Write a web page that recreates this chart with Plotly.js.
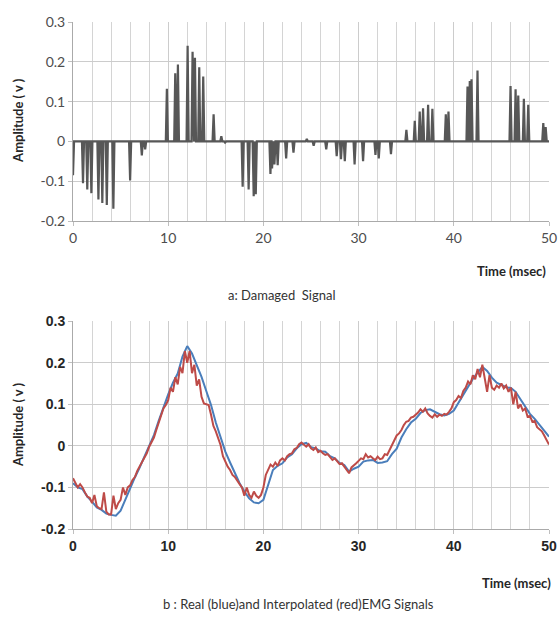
<!DOCTYPE html>
<html>
<head>
<meta charset="utf-8">
<script src="https://cdn.plot.ly/plotly-3.0.1.min.js"></script>
<style>
html,body{margin:0;padding:0;background:#fff;}
#chart{width:558px;height:619px;}
</style>
</head>
<body>
<div id="chart"></div>
<script>
// ---- Panel a: damaged signal (spike times in msec and amplitudes in v) ----
const damagedSpikeTimes = [0.0, 1.05, 1.5, 1.93, 2.67, 3.08, 3.55, 4.24, 6.0, 7.23, 7.58,
  9.86, 10.74, 11.02, 12.04, 12.56, 12.81, 13.26, 13.68, 14.77, 15.58, 15.97,
  17.82, 18.45, 18.98, 19.2, 20.74, 20.91, 21.16, 21.5, 22.39, 23.16, 24.56, 25.28,
  26.6, 27.7, 28.15, 28.55, 29.58, 30.47, 31.77, 32.12, 33.4,
  35.02, 35.9, 36.42, 36.77, 37.3, 37.75, 39.16, 39.44, 41.44, 41.68, 41.86, 42.49,
  45.96, 46.49, 46.77, 47.36, 47.82, 49.4, 49.65];
const damagedSpikeValues = [-0.085, -0.105, -0.121, -0.13, -0.146, -0.155, -0.16, -0.169, -0.098, -0.035, -0.02,
  0.132, 0.171, 0.193, 0.24, 0.225, 0.21, 0.186, 0.163, 0.068, 0.013, -0.003,
  -0.114, -0.121, -0.138, -0.133, -0.082, -0.068, -0.058, -0.06, -0.043, -0.028, 0.006, -0.011,
  -0.02, -0.037, -0.045, -0.05, -0.058, -0.05, -0.034, -0.043, -0.032,
  0.029, 0.052, 0.075, 0.083, 0.092, 0.082, 0.068, 0.075, 0.138, 0.152, 0.156, 0.178,
  0.139, 0.131, 0.115, 0.107, 0.092, 0.046, 0.036];

// ---- Panel b: real (blue) signal, sampled every 0.5 msec ----
const realTimes = [0,0.5,1,1.5,2,2.5,3,3.5,4,4.5,5,5.5,6,6.5,7,7.5,8,8.5,9,9.5,
  10,10.5,11,11.5,12,12.5,13,13.5,14,14.5,15,15.5,16,16.5,17,17.5,18,18.5,19,19.5,
  20,20.5,21,21.5,22,22.5,23,23.5,24,24.5,25,25.5,26,26.5,27,27.5,28,28.5,29,29.5,
  30,30.5,31,31.5,32,32.5,33,33.5,34,34.5,35,35.5,36,36.5,37,37.5,38,38.5,39,39.5,
  40,40.5,41,41.5,42,42.5,43,43.5,44,44.5,45,45.5,46,46.5,47,47.5,48,48.5,49,49.5,50];
const realValues = [-0.09,-0.1,-0.104,-0.122,-0.134,-0.148,-0.154,-0.163,-0.166,-0.168,
  -0.156,-0.128,-0.104,-0.076,-0.052,-0.026,-0.004,0.026,0.06,0.094,
  0.124,0.152,0.174,0.215,0.24,0.222,0.196,0.166,0.132,0.098,
  0.056,0.018,-0.014,-0.04,-0.066,-0.09,-0.11,-0.126,-0.136,-0.138,
  -0.13,-0.095,-0.058,-0.048,-0.042,-0.028,-0.02,-0.006,0.004,0.007,
  -0.003,-0.006,-0.013,-0.014,-0.025,-0.03,-0.041,-0.046,-0.062,-0.055,
  -0.05,-0.038,-0.035,-0.034,-0.041,-0.04,-0.037,-0.02,-0.007,0.02,
  0.04,0.056,0.065,0.079,0.086,0.088,0.082,0.076,0.073,0.077,
  0.085,0.104,0.125,0.144,0.161,0.176,0.19,0.18,0.164,0.152,
  0.147,0.141,0.139,0.13,0.112,0.093,0.077,0.065,0.05,0.035,0.022];

// ---- Panel b: interpolated (red) signal, sampled every 0.25 msec ----
const interpTimes = [];
for (let i = 0; i <= 200; i++) interpTimes.push(i * 0.25);
const interpValues = [
  -0.078,-0.09,-0.1,-0.092,-0.1,-0.112,-0.122,-0.125,-0.138,-0.118,-0.145,-0.15,-0.152,-0.112,-0.158,-0.165,
  -0.165,-0.12,-0.152,-0.138,-0.13,-0.1,-0.118,-0.1,-0.095,-0.082,-0.075,-0.06,-0.05,-0.04,-0.028,-0.018,
  -0.002,0.008,0.02,0.038,0.055,0.075,0.09,0.098,0.11,0.14,0.13,0.165,0.148,0.19,0.175,0.228,
  0.2,0.228,0.175,0.195,0.145,0.16,0.118,0.102,0.1,0.098,0.075,0.048,0.035,0.02,0.002,-0.025,
  -0.04,-0.05,-0.058,-0.07,-0.075,-0.085,-0.092,-0.1,-0.12,-0.1,-0.118,-0.125,-0.11,-0.12,-0.125,-0.118,
  -0.1,-0.07,-0.055,-0.045,-0.05,-0.04,-0.048,-0.035,-0.03,-0.035,-0.025,-0.02,-0.018,-0.008,-0.005,0.004,
  0.008,0.004,-0.002,0.004,-0.006,-0.01,-0.004,-0.015,-0.012,-0.018,-0.022,-0.02,-0.028,-0.034,-0.03,-0.038,
  -0.044,-0.042,-0.05,-0.058,-0.066,-0.052,-0.048,-0.042,-0.036,-0.03,-0.032,-0.02,-0.028,-0.025,-0.03,-0.034,
  -0.026,-0.032,-0.03,-0.02,-0.022,-0.01,0.002,0.01,0.025,0.03,0.038,0.05,0.058,0.06,0.068,0.07,
  0.074,0.08,0.088,0.082,0.09,0.078,0.072,0.068,0.076,0.07,0.075,0.072,0.077,0.075,0.082,0.09,
  0.105,0.11,0.12,0.115,0.132,0.14,0.155,0.148,0.17,0.16,0.185,0.165,0.195,0.165,0.13,0.17,
  0.14,0.135,0.145,0.14,0.15,0.138,0.145,0.13,0.14,0.1,0.13,0.09,0.1,0.085,0.09,0.07,
  0.072,0.058,0.06,0.045,0.04,0.035,0.025,0.015,0.003];

// ---- Axis ticks ----
const xTickVals = [0, 10, 20, 30, 40, 50];
const xTickText = ['0', '10', '20', '30', '40', '50'];
const yTickVals = [-0.2, -0.1, 0, 0.1, 0.2, 0.3];
const yTickText = ['-0.2', '-0.1', '0', '0.1', '0.2', '0.3'];

// Build spike polyline for the damaged signal (baseline 0 between spikes)
const spikeHalfWidth = 0.11;
const dmgX = [], dmgY = [];
for (let i = 0; i < damagedSpikeTimes.length; i++) {
  const t = damagedSpikeTimes[i];
  dmgX.push(t - spikeHalfWidth, t, t + spikeHalfWidth);
  dmgY.push(0, damagedSpikeValues[i], 0);
}
dmgX.push(50.2); dmgY.push(0);

const traces = [
  {x: dmgX, y: dmgY, xaxis: 'x', yaxis: 'y', type: 'scatter', mode: 'lines',
   line: {color: '#575757', width: 2.2}, hoverinfo: 'skip'},
  {x: realTimes, y: realValues, xaxis: 'x2', yaxis: 'y2', type: 'scatter', mode: 'lines',
   line: {color: '#4A7EBB', width: 2}, name: 'Real'},
  {x: interpTimes, y: interpValues, xaxis: 'x2', yaxis: 'y2', type: 'scatter', mode: 'lines',
   line: {color: '#BE4B48', width: 2}, name: 'Interpolated'}
];

function xAxis(fontSpec, anchor) {
  return {
    domain: [0, 1], anchor: anchor, range: [0, 50], fixedrange: true,
    tickvals: xTickVals, ticktext: xTickText,
    ticks: 'outside', ticklen: 4, tickcolor: '#bfbfbf',
    showgrid: true, gridcolor: '#cccccc', gridwidth: 1,
    minor: {dtick: 2, tick0: 0, showgrid: true, gridcolor: '#d4d4d4', gridwidth: 1, ticks: ''},
    showline: true, linecolor: '#aaaaaa', linewidth: 1,
    zeroline: false, tickfont: fontSpec
  };
}
function yAxis(domain, fontSpec, anchor) {
  return {
    domain: domain, anchor: anchor, range: [-0.2, 0.3], fixedrange: true,
    tickvals: yTickVals, ticktext: yTickText,
    ticks: 'outside', ticklen: 4, tickcolor: '#bfbfbf',
    showgrid: true, gridcolor: '#cccccc', gridwidth: 1,
    showline: true, linecolor: '#aaaaaa', linewidth: 1,
    zeroline: false, tickfont: fontSpec
  };
}

const topTickFont = {family: 'Lato, "Open Sans", sans-serif', size: 14, color: '#4d4d4d'};
const botTickFont = {family: '"Liberation Sans", Arial, sans-serif', size: 14, color: '#262626', weight: 'bold'};
const titleFont = {family: 'Lato, "Open Sans", sans-serif', size: 13, color: '#262626', weight: 'bold'};
const capFont = {family: 'Lato, "Open Sans", sans-serif', size: 13, color: '#333333'};

const layout = {
  width: 558, height: 619,
  margin: {l: 73, r: 9, t: 22, b: 90},
  paper_bgcolor: '#ffffff', plot_bgcolor: '#ffffff',
  showlegend: false,
  xaxis: xAxis(topTickFont, 'y'),
  yaxis: yAxis([0.6075, 1], topTickFont, 'x'),
  xaxis2: xAxis(botTickFont, 'y2'),
  yaxis2: yAxis([0, 0.41], botTickFont, 'x2'),
  annotations: [
    {text: 'Amplitude ( v )', xref: 'paper', yref: 'paper', x: -0.1155, y: 0.805,
     textangle: -90, showarrow: false, font: titleFont, xanchor: 'center', yanchor: 'middle'},
    {text: 'Time (msec)', xref: 'paper', yref: 'paper', x: 0.922, y: 0.509,
     showarrow: false, font: titleFont, xanchor: 'center', yanchor: 'middle'},
    {text: 'a: Damaged&nbsp; Signal', xref: 'paper', yref: 'paper', x: 0.439, y: 0.4615,
     showarrow: false, font: capFont, xanchor: 'center', yanchor: 'middle'},
    {text: 'Amplitude ( v )', xref: 'paper', yref: 'paper', x: -0.1155, y: 0.205,
     textangle: -90, showarrow: false, font: titleFont, xanchor: 'center', yanchor: 'middle'},
    {text: 'Time (msec)', xref: 'paper', yref: 'paper', x: 0.931, y: -0.1065,
     showarrow: false, font: titleFont, xanchor: 'center', yanchor: 'middle'},
    {text: 'b : Real (blue)and Interpolated (red)EMG Signals', xref: 'paper', yref: 'paper', x: 0.4727, y: -0.148,
     showarrow: false, font: capFont, xanchor: 'center', yanchor: 'middle'}
  ]
};

Plotly.newPlot('chart', traces, layout, {staticPlot: true, displayModeBar: false});
</script>
</body>
</html>
